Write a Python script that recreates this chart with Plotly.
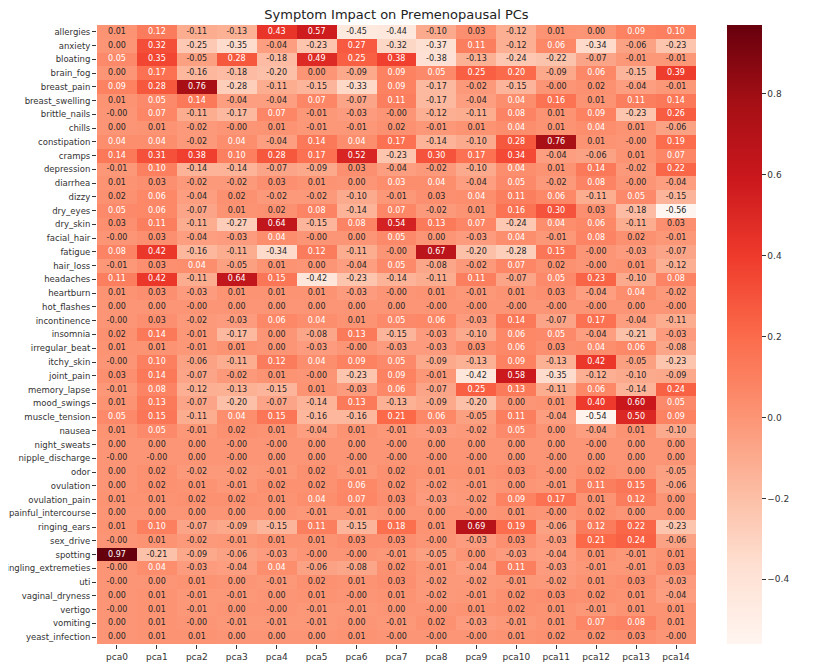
import plotly.graph_objects as go

title = "Symptom Impact on Premenopausal PCs"

columns = ["pca0", "pca1", "pca2", "pca3", "pca4", "pca5", "pca6", "pca7",
           "pca8", "pca9", "pca10", "pca11", "pca12", "pca13", "pca14"]

symptoms = ["allergies", "anxiety", "bloating", "brain_fog", "breast_pain", "breast_swelling",
            "brittle_nails", "chills", "constipation", "cramps", "depression", "diarrhea",
            "dizzy", "dry_eyes", "dry_skin", "facial_hair", "fatigue", "hair_loss",
            "headaches", "heartburn", "hot_flashes", "incontinence", "insomnia",
            "irregular_beat", "itchy_skin", "joint_pain", "memory_lapse", "mood_swings",
            "muscle_tension", "nausea", "night_sweats", "nipple_discharge", "odor",
            "ovulation", "ovulation_pain", "painful_intercourse", "ringing_ears",
            "sex_drive", "spotting", "tingling_extremeties", "uti", "vaginal_dryness",
            "vertigo", "vomiting", "yeast_infection"]

loadings = [
    [0.01, 0.12, -0.11, -0.13, 0.43, 0.57, -0.45, -0.44, -0.10, 0.03, -0.12, 0.01, 0.00, 0.09, 0.10],
    [0.00, 0.32, -0.25, -0.35, -0.04, -0.23, 0.27, -0.32, -0.37, 0.11, -0.12, 0.06, -0.34, -0.06, -0.23],
    [0.05, 0.35, -0.05, 0.28, -0.18, 0.49, 0.25, 0.38, -0.38, -0.13, -0.24, -0.22, -0.07, -0.01, -0.01],
    [0.00, 0.17, -0.16, -0.18, -0.20, 0.00, -0.09, 0.09, 0.05, 0.25, 0.20, -0.09, 0.06, -0.15, 0.39],
    [0.09, 0.28, 0.76, -0.28, -0.11, -0.15, -0.33, 0.09, -0.17, -0.02, -0.15, -0.0, 0.02, -0.04, -0.01],
    [0.01, 0.05, 0.14, -0.04, -0.04, 0.07, -0.07, 0.11, -0.17, -0.04, 0.04, 0.16, 0.01, 0.11, 0.14],
    [-0.0, 0.07, -0.11, -0.17, 0.07, -0.01, -0.03, -0.0, -0.12, -0.11, 0.08, 0.01, 0.09, -0.23, 0.26],
    [0.00, 0.01, -0.02, -0.0, 0.01, -0.01, -0.01, 0.02, -0.01, 0.01, 0.04, 0.01, 0.04, 0.01, -0.06],
    [0.04, 0.04, -0.02, 0.04, -0.04, 0.14, 0.04, 0.17, -0.14, -0.10, 0.28, 0.76, 0.01, -0.0, 0.19],
    [0.14, 0.31, 0.38, 0.10, 0.28, 0.17, 0.52, -0.23, 0.30, 0.17, 0.34, -0.04, -0.06, 0.01, 0.07],
    [-0.01, 0.10, -0.14, -0.14, -0.07, -0.09, 0.03, -0.04, -0.02, -0.10, 0.04, 0.01, 0.14, -0.02, 0.22],
    [0.01, 0.03, -0.02, -0.02, 0.03, 0.01, 0.00, 0.034, 0.04, -0.04, 0.05, -0.02, 0.08, -0.0, -0.04],
    [0.02, 0.06, -0.04, 0.02, -0.02, -0.02, -0.10, -0.01, 0.03, 0.04, 0.11, 0.06, -0.11, 0.05, -0.15],
    [0.05, 0.06, -0.07, 0.01, 0.02, 0.08, -0.14, 0.07, -0.02, 0.01, 0.16, 0.30, 0.03, -0.18, -0.56],
    [0.03, 0.11, -0.11, -0.27, 0.64, -0.15, 0.08, 0.54, 0.13, 0.07, -0.24, 0.04, 0.06, -0.11, 0.03],
    [-0.0, 0.03, -0.04, -0.03, 0.04, -0.0, 0.00, 0.05, 0.00, -0.03, 0.04, -0.01, 0.08, 0.02, -0.01],
    [0.08, 0.42, -0.16, -0.11, -0.34, 0.12, -0.11, -0.0, 0.67, -0.20, -0.28, 0.15, -0.0, -0.03, -0.07],
    [-0.01, 0.03, 0.04, -0.05, 0.01, 0.00, -0.04, 0.05, -0.08, -0.02, 0.07, 0.02, -0.0, 0.01, -0.12],
    [0.11, 0.42, -0.11, 0.64, 0.15, -0.42, -0.23, -0.14, -0.11, 0.11, -0.07, 0.05, 0.23, -0.10, 0.08],
    [0.01, 0.03, -0.03, 0.01, 0.01, 0.01, -0.03, -0.0, 0.01, -0.01, 0.01, 0.03, -0.04, 0.04, -0.02],
    [0.00, 0.00, -0.0, 0.00, 0.00, 0.00, 0.00, 0.00, -0.0, -0.0, -0.0, -0.0, -0.0, 0.00, -0.0],
    [-0.0, 0.03, -0.02, -0.03, 0.06, 0.04, 0.01, 0.05, 0.06, -0.03, 0.14, -0.07, 0.17, -0.04, -0.11],
    [0.02, 0.14, -0.01, -0.17, 0.00, -0.08, 0.13, -0.15, -0.03, -0.10, 0.06, 0.05, -0.04, -0.21, -0.03],
    [0.01, 0.01, -0.01, 0.01, 0.00, -0.03, -0.0, -0.03, -0.03, 0.03, 0.06, 0.03, 0.04, 0.06, -0.08],
    [-0.0, 0.10, -0.06, -0.11, 0.12, 0.04, 0.09, 0.05, -0.09, -0.13, 0.09, -0.13, 0.42, -0.05, -0.23],
    [0.03, 0.14, -0.07, -0.02, 0.01, -0.0, -0.23, 0.09, -0.01, -0.42, 0.58, -0.35, -0.12, -0.10, -0.09],
    [-0.01, 0.08, -0.12, -0.13, -0.15, 0.01, -0.03, 0.06, -0.07, 0.25, 0.13, -0.11, 0.06, -0.14, 0.24],
    [0.01, 0.13, -0.07, -0.20, -0.07, -0.14, 0.13, -0.13, -0.09, -0.20, 0.00, 0.01, 0.40, 0.60, 0.05],
    [0.05, 0.15, -0.11, 0.04, 0.15, -0.16, -0.16, 0.21, 0.06, -0.05, 0.11, -0.04, -0.54, 0.50, 0.09],
    [0.01, 0.05, -0.01, 0.02, 0.01, -0.04, 0.01, -0.01, -0.03, -0.02, 0.05, 0.00, -0.04, 0.01, -0.10],
    [0.00, 0.00, 0.00, -0.0, -0.0, 0.00, 0.00, -0.0, 0.00, 0.00, 0.00, 0.00, -0.0, 0.00, 0.00],
    [-0.0, -0.0, 0.00, -0.0, 0.00, 0.00, -0.0, -0.0, -0.0, -0.0, 0.00, -0.0, 0.00, 0.00, 0.00],
    [0.00, 0.02, -0.02, -0.02, -0.01, 0.02, -0.01, 0.02, 0.01, 0.01, 0.03, -0.0, 0.02, 0.00, -0.05],
    [0.00, 0.02, 0.01, -0.01, 0.02, 0.02, 0.06, 0.02, -0.02, -0.01, 0.00, -0.01, 0.11, 0.15, -0.06],
    [0.01, 0.01, 0.02, 0.02, 0.01, 0.04, 0.07, 0.03, -0.03, -0.02, 0.09, 0.17, 0.01, 0.12, 0.00],
    [0.00, 0.00, 0.00, 0.00, 0.00, -0.01, -0.01, 0.00, 0.00, -0.0, 0.01, -0.0, 0.02, 0.00, 0.00],
    [0.01, 0.10, -0.07, -0.09, -0.15, 0.11, -0.15, 0.18, 0.01, 0.69, 0.19, -0.06, 0.12, 0.22, -0.23],
    [-0.0, 0.01, -0.02, -0.01, 0.01, 0.01, 0.03, 0.03, -0.0, -0.03, 0.03, -0.03, 0.21, 0.24, -0.06],
    [0.97, -0.21, -0.09, -0.06, -0.03, -0.0, -0.0, -0.01, -0.05, 0.00, -0.03, -0.04, 0.01, -0.01, 0.01],
    [-0.0, 0.04, -0.03, -0.04, 0.04, -0.06, -0.08, 0.02, -0.01, -0.04, 0.11, -0.03, -0.01, -0.01, 0.03],
    [-0.0, 0.00, 0.01, 0.00, -0.01, 0.02, 0.01, 0.03, -0.02, -0.02, -0.01, -0.02, 0.01, 0.03, -0.03],
    [0.00, 0.01, -0.01, -0.01, 0.00, 0.01, -0.0, 0.01, -0.02, -0.01, 0.02, 0.03, 0.02, 0.01, -0.04],
    [-0.0, 0.01, -0.01, 0.00, -0.0, -0.01, -0.01, 0.00, -0.0, 0.01, 0.02, 0.01, -0.01, 0.01, 0.01],
    [0.00, 0.01, -0.0, -0.01, -0.01, -0.01, 0.00, -0.01, 0.02, -0.03, -0.01, 0.01, 0.07, 0.08, 0.01],
    [0.00, 0.01, 0.01, 0.00, 0.00, 0.00, 0.01, -0.0, -0.0, -0.0, 0.01, 0.02, 0.02, 0.03, -0.0],
]

colorbar_ticks = [-0.4, -0.2, 0.0, 0.2, 0.4, 0.6, 0.8]

reds = ["#fff5f0", "#fee0d2", "#fcbba1", "#fc9272", "#fb6a4a",
        "#ef3b2c", "#cb181d", "#a50f15", "#67000d"]
colorscale = [[i / (len(reds) - 1), c] for i, c in enumerate(reds)]

zmin = min(min(r) for r in loadings)
zmax = max(max(r) for r in loadings)

# page body has an 8px default margin; figure is sized to fit the 825x667 window
W, H = 817, 659
L, R, T, B = 89, 129, 17, 23
plot_w = W - L - R

fig = go.Figure()
fig.add_trace(go.Heatmap(
    z=loadings, x=columns, y=symptoms,
    colorscale=colorscale, zmin=zmin, zmax=zmax,
    xgap=0, ygap=0, hoverinfo="skip",
    colorbar=dict(
        thickness=35, len=1, lenmode="fraction", y=0.5, yanchor="middle",
        x=(719 - L) / plot_w, xanchor="left", xpad=0, ypad=0, outlinewidth=0,
        tickvals=colorbar_ticks, ticks="outside", ticklen=4, tickcolor="#333",
        tickfont=dict(family="DejaVu Sans", size=9, color="#333"),
        tickformat=".1f",
    ),
))

xs, ys, texts, tcolors = [], [], [], []
for r, row in zip(symptoms, loadings):
    for c, v in zip(columns, row):
        xs.append(c)
        ys.append(r)
        texts.append(f"{v:.2f}")
        tcolors.append("#ffffff" if v > 0.033 else "#262626")

fig.add_trace(go.Scatter(
    x=xs, y=ys, text=texts, mode="text",
    textfont=dict(family="DejaVu Sans", size=8, color=tcolors),
    hoverinfo="skip", showlegend=False,
))

fig.update_layout(
    template="none",
    width=W, height=H,
    margin=dict(l=L, r=R, t=T, b=B, autoexpand=False),
    paper_bgcolor="white", plot_bgcolor="white",
    title=dict(text=title, x=(L + L + plot_w) / 2 / W, xanchor="center",
               y=1 - 6 / H, yanchor="middle",
               font=dict(family="DejaVu Sans", size=13, color="#222")),
    showlegend=False,
)
fig.update_xaxes(
    type="category", range=[-0.5, len(columns) - 0.5], autorange=False,
    showgrid=False, zeroline=False, showline=False,
    ticks="outside", ticklen=4, tickcolor="#333", automargin=False,
    tickfont=dict(family="DejaVu Sans", size=9, color="#333"),
)
fig.update_yaxes(
    type="category", range=[len(symptoms) - 0.5, -0.5], autorange=False,
    showgrid=False, zeroline=False, showline=False,
    ticks="outside", ticklen=4, tickcolor="#333", automargin=False,
    tickfont=dict(family="DejaVu Sans", size=8.5, color="#333"),
)

fig.write_html("out.html")
